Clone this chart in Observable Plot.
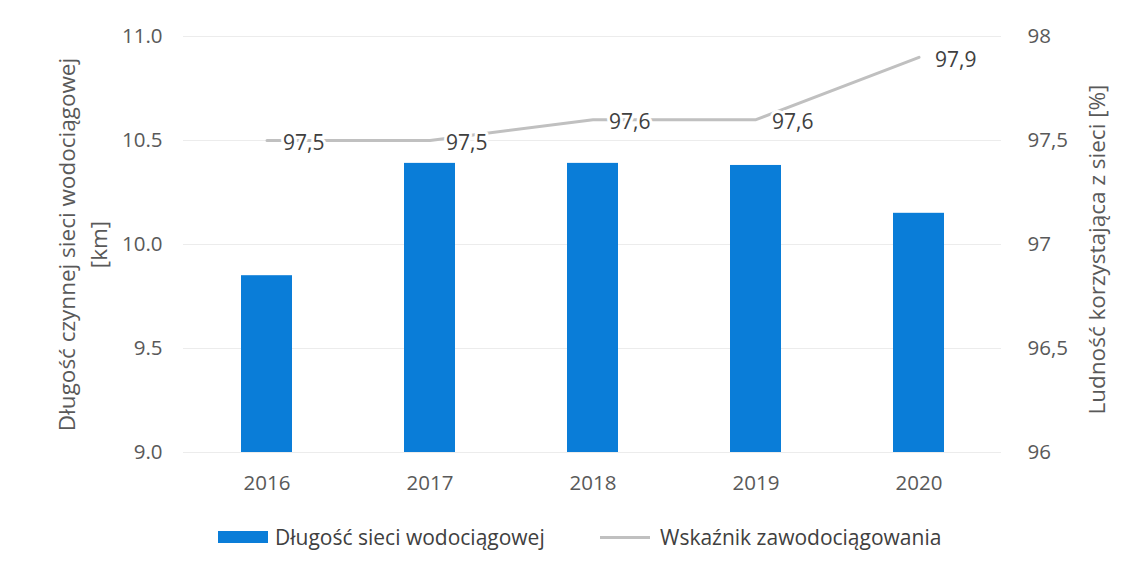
<!DOCTYPE html>
<html>
<head>
<meta charset="utf-8">
<script src="https://cdn.jsdelivr.net/npm/d3@7"></script>
<script src="https://cdn.jsdelivr.net/npm/@observablehq/plot@0.6"></script>
<style>
  body { margin: 0; background: #fff; font-family: "Open Sans", sans-serif; }
  #wrap { position: relative; width: 1128px; height: 569px; }
  #legend { position: absolute; left: 0; top: 524px; width: 1128px; height: 26px; font-size: 21px; color: #404040; }
  .item { position: absolute; top: 0; display: flex; align-items: center; height: 26px; white-space: nowrap; }
  .sw-bar { width: 50px; height: 12px; background: #0a7dd8; margin-right: 7px; }
  .sw-line { width: 50px; height: 3px; background: #c0c0c0; margin-right: 10px; }
</style>
</head>
<body>
<div id="wrap">
  <div id="chart"></div>
  <div id="legend"></div>
</div>
<script>
const years = ["2016", "2017", "2018", "2019", "2020"];
const networkLength = [9.85, 10.39, 10.39, 10.38, 10.15];
const supplyRate = [97.5, 97.5, 97.6, 97.6, 97.9];
const rateLabels = ["97,5", "97,5", "97,6", "97,6", "97,9"];
const leftTicks = [9.0, 9.5, 10.0, 10.5, 11.0];
const leftTickLabels = ["9.0", "9.5", "10.0", "10.5", "11.0"];
const rightTicks = [96, 96.5, 97, 97.5, 98];
const rightTickLabels = ["96", "96,5", "97", "97,5", "98"];
const seriesNames = ["Długość sieci wodociągowej", "Wskaźnik zawodociągowania"];
const leftTitle = "Długość czynnej sieci wodociągowej\n[km]";
const rightTitle = "Ludność korzystająca z sieci [%]";

// map right-axis values (96..98) onto left scale (9..11)
const toLeft = v => 9 + (v - 96) * (11 - 9) / (98 - 96);

const bars = years.map((y, i) => ({year: y, value: networkLength[i]}));
const line = years.map((y, i) => ({year: y, value: toLeft(supplyRate[i]), label: rateLabels[i]}));

const chart = Plot.plot({
  width: 1128,
  height: 510,
  marginTop: 36,
  marginBottom: 58,
  marginLeft: 183,
  marginRight: 127,
  style: {fontFamily: "'Open Sans', sans-serif", fontSize: "20px", color: "#595959", background: "#fff"},
  x: {domain: years, paddingInner: 0.69, paddingOuter: 0.345, label: null},
  y: {domain: [9, 11], label: null},
  marks: [
    Plot.gridY(leftTicks, {stroke: "#ececec", strokeOpacity: 1}),
    Plot.barY(bars, {x: "year", y1: 9, y2: "value", fill: "#0a7dd8"}),
    Plot.line(line, {x: "year", y: "value", stroke: "#c0c0c0", strokeWidth: 3}),
    Plot.text(line, {x: "year", y: "value", text: "label", textAnchor: "start", dx: 16, dy: 3,
      fill: "#404040", stroke: "white", strokeWidth: 6, fontSize: 21}),
    Plot.axisX({tickSize: 0, tickPadding: 23, fontSize: 20.5, color: "#595959"}),
    Plot.axisY(leftTicks, {anchor: "left", tickSize: 0, tickPadding: 21, label: null, fontSize: 20.5,
      tickFormat: (d, i) => leftTickLabels[i]}),
    Plot.axisY(leftTicks, {anchor: "right", tickSize: 0, tickPadding: 26, label: null, fontSize: 20.5,
      tickFormat: (d, i) => rightTickLabels[i]}),
    Plot.text([leftTitle], {frameAnchor: "left", textAnchor: "middle", dx: -103, rotate: -90, fontSize: 22.5, fill: "#595959", lineHeight: 1.42}),
    Plot.text([rightTitle], {frameAnchor: "right", textAnchor: "middle", dx: 96, dy: 5, rotate: -90, fontSize: 22.5, fill: "#595959"})
  ]
});
document.getElementById("chart").appendChild(chart);

const legend = document.getElementById("legend");
legend.innerHTML = `
  <div class="item" style="left:218px"><span class="sw-bar"></span><span>${seriesNames[0]}</span></div>
  <div class="item" style="left:600px"><span class="sw-line"></span><span>${seriesNames[1]}</span></div>`;
</script>
</body>
</html>
